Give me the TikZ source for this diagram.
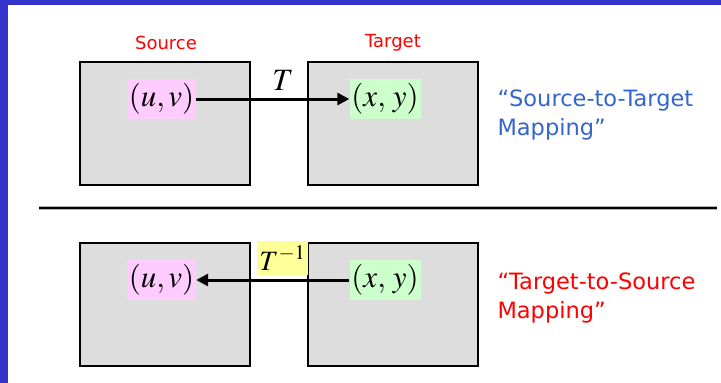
\documentclass[tikz,border=0pt]{standalone}
\usepackage{fontspec}
\usepackage{mathptmx}
\setmainfont{DejaVu Sans}
\usetikzlibrary{arrows.meta}
\definecolor{frameblue}{RGB}{51,51,204}
\definecolor{boxgray}{RGB}{221,221,221}
\definecolor{pinkbg}{RGB}{255,204,255}
\definecolor{greenbg}{RGB}{204,255,204}
\definecolor{yellowbg}{RGB}{255,255,153}
\definecolor{labelblue}{RGB}{51,102,204}
\definecolor{labelred}{RGB}{255,0,0}
\tikzset{
  panel/.style={draw=black, line width=2pt, fill=boxgray, minimum width=170pt, minimum height=123pt, inner sep=0pt},
  coordbox/.style={minimum width=69pt, minimum height=40pt, inner sep=0pt, font=\fontsize{31}{31}\selectfont},
  heading/.style={text=labelred, font=\fontsize{18}{18}\selectfont},
  caption/.style={align=left, anchor=west, font=\fontsize{22.5}{29}\selectfont},
  maparrow/.style={line width=3pt, -{Triangle[length=12pt,width=12pt]}}
}
\begin{document}
\begin{tikzpicture}[x=1pt, y=-1pt]
  \useasboundingbox (0,0) rectangle (721,383);
  \fill[white] (0,0) rectangle (721,383);
  % slide frame
  \fill[frameblue] (0,0) rectangle (721,5);
  \fill[frameblue] (0,0) rectangle (8,383);

  % headings
  \node[heading] (srcLabel) at (166,43) {Source};
  \node[heading] (tgtLabel) at (393,43) {Target};

  % upper row: source-to-target
  \node[panel] (srcTop) at (165,123.5) {};
  \node[panel] (tgtTop) at (393,123.5) {};
  \node[coordbox, fill=pinkbg] (uvTop) at (161.5,99) {$(u,v)$};
  \node[coordbox, minimum width=71pt, fill=greenbg] (xyTop) at (385,99) {$(x,\,y)$};
  \draw[maparrow] (uvTop.east) -- (xyTop.west);
  \node[font=\fontsize{31}{31}\selectfont] (tLabel) at (283,80) {$T$};

  % divider
  \coordinate (divL) at (39,208);
  \coordinate (divR) at (717,208);
  \draw[gray!60, line width=3.4pt] (divL) -- (divR);
  \draw[black, line width=2pt] (divL) -- (divR);

  % lower row: target-to-source
  \node[panel] (srcBot) at (165,304.5) {};
  \node[panel] (tgtBot) at (393,304.5) {};
  \node[coordbox, fill=pinkbg] (uvBot) at (161.5,280) {$(u,v)$};
  \node[coordbox, minimum width=71pt, fill=greenbg] (xyBot) at (385,280) {$(x,\,y)$};
  \draw[maparrow] (xyBot.west) -- (uvBot.east);
  \node[fill=yellowbg, minimum width=51pt, minimum height=34pt, inner sep=0pt,
        font=\fontsize{28}{28}\selectfont] (tInv) at (282.5,258) {$T^{-1}$};

  % captions
  \node[caption, text=labelblue] (capTop) at (494,115) {``Source-to-Target\\Mapping''};
  \node[caption, text=labelred] (capBot) at (494,298) {``Target-to-Source\\Mapping''};
\end{tikzpicture}
\end{document}
